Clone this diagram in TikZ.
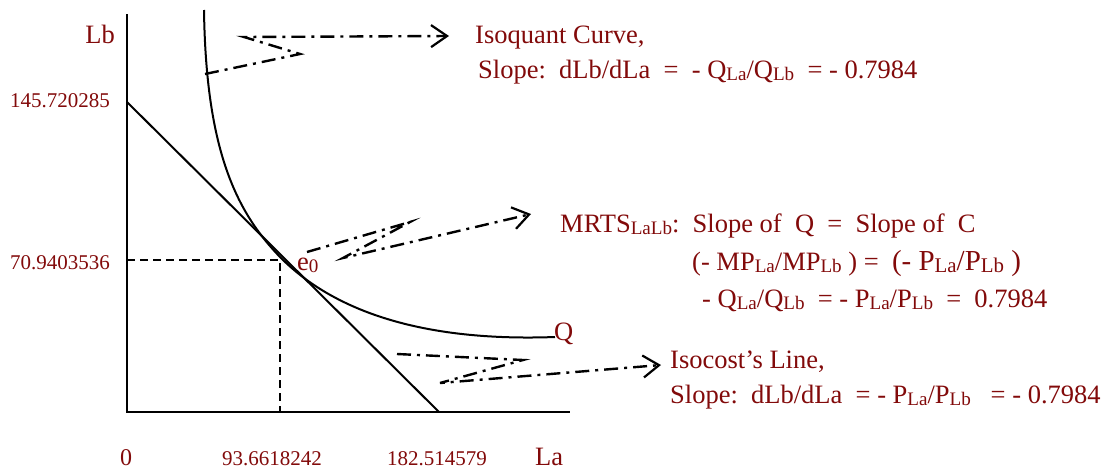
\documentclass[tikz,border=0pt]{standalone}
\usepackage{fontspec}
\setmainfont{Liberation Serif}
\usetikzlibrary{arrows.meta}
\definecolor{lab}{RGB}{130,10,10}
\newcommand\sbs[1]{\raisebox{-0.1em}{\scalebox{0.72}{#1}}}
\begin{document}
\begin{tikzpicture}[x=1pt,y=-1pt,
  axis/.style={line width=2.2pt},
  curve/.style={line width=2pt},
  guide/.style={line width=1.6pt, dash pattern=on 8pt off 5pt},
  dd/.style={line width=2.4pt, dash pattern=on 14pt off 6pt on 3pt off 6pt,
     -{Straight Barb[length=16pt,width=22pt,line width=2.2pt]}},
  lbl/.style={text=lab, inner sep=0pt, font=\fontsize{26.5}{30}\selectfont},
  num/.style={text=lab, inner sep=0pt, font=\fontsize{21}{25}\selectfont}]
\useasboundingbox (0,0) rectangle (1109,469);
% axes
\coordinate (O) at (127,412);
\coordinate (ytop) at (127,14);
\coordinate (xend) at (570,412);
\draw[axis] (ytop) -- (O) -- (xend);
% isocost line
\coordinate (B1) at (127,102);
\coordinate (B2) at (439,412);
\draw[curve] (B1) -- (B2);
% isoquant
\coordinate (Q0) at (204,10);
\coordinate (E) at (281,258);
\coordinate (Q1) at (555,337);
\draw[curve] (Q0) .. controls (206,150) and (236,212) .. (E)
  .. controls (333,310) and (420,342) .. (Q1);
% guide lines
\coordinate (Ey) at (127,260);
\coordinate (Ec) at (280,260);
\coordinate (Ex) at (280,412);
\draw[guide] (Ey) -- (Ec) -- (Ex);
% labels on axes
\node[lbl, anchor=base east] (lb) at (115,43) {Lb};
\node[num, anchor=base east] (y1) at (110,107) {145.720285};
\node[num, anchor=base east] (y2) at (110,269) {70.9403536};
\node[lbl, font=\fontsize{24}{28}\selectfont, anchor=base] (zero) at (126,465) {0};
\node[num, anchor=base west] (x1) at (222,465) {93.6618242};
\node[num, anchor=base west] (x2) at (387,465) {182.514579};
\node[lbl, anchor=base west] (la) at (535,465) {La};
\node[lbl, anchor=base west] (e0) at (297,270) {e\sbs{0}};
\node[lbl, anchor=base west] (q) at (554,340) {Q};
% text blocks
\node[lbl, anchor=base west] (iq1) at (475,43) {Isoquant Curve,};
\node[lbl, anchor=base west] (iq2) at (478,78) {Slope:\ \ dLb/dLa\ \ =\ \ - Q\sbs{La}/Q\sbs{Lb}\ \ =\ - 0.7984};
\node[lbl, anchor=base west] (m1) at (560,232) {MRTS\sbs{LaLb}:\ \ Slope of\ \ Q\ \ =\ \ Slope of\ \ C};
\node[lbl, anchor=base west] (m2) at (692,270) {(- MP\sbs{La}/MP\sbs{Lb} )\ =\ \ {\fontsize{29}{32}\selectfont(- P\sbs{La}/P\sbs{Lb} )}};
\node[lbl, anchor=base west] (m3) at (702,307) {- Q\sbs{La}/Q\sbs{Lb}\ \ = - P\sbs{La}/P\sbs{Lb}\ \ =\ \ 0.7984};
\node[lbl, anchor=base west] (c1) at (670,368) {Isocost’s Line,};
\node[lbl, anchor=base west] (c2) at (670,403) {Slope:\ \ dLb/dLa\ \ = - P\sbs{La}/P\sbs{Lb}\ \ \ = - 0.7984};
% pointer arrows
\coordinate (a1) at (205,74);
\coordinate (a2) at (300,54);
\coordinate (a3) at (244,37);
\coordinate (a4) at (449,36);
\draw[dd] (a1) -- (a2) -- (a3) -- (a4);
\coordinate (b1) at (307,252);
\coordinate (b2) at (410,222);
\coordinate (b3) at (343,258);
\coordinate (b4) at (531,214);
\draw[dd] (b1) -- (b2) -- (b3) -- (b4);
\coordinate (c1s) at (397,354);
\coordinate (c2s) at (523,360);
\coordinate (c3s) at (440,383);
\coordinate (c4s) at (661,365);
\draw[dd] (c1s) -- (c2s) -- (c3s) -- (c4s);
\end{tikzpicture}
\end{document}
